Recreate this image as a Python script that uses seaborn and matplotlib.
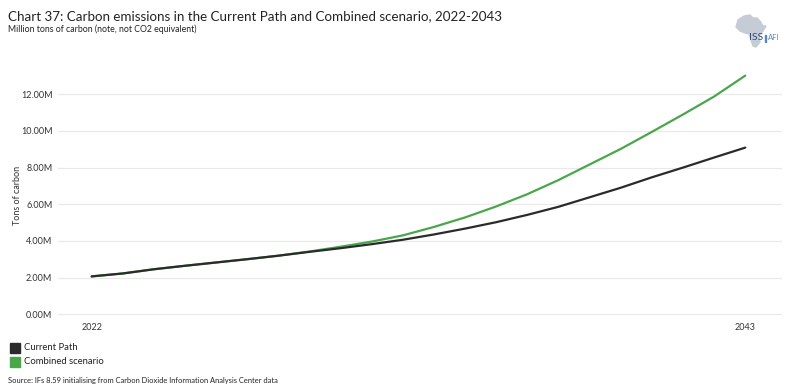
import numpy as np
import pandas as pd
import matplotlib
matplotlib.use("Agg")
import matplotlib.pyplot as plt
import seaborn as sns
from matplotlib.patches import Rectangle, Polygon

years = list(range(2022, 2044))
current_path = [2.06, 2.22, 2.45, 2.64, 2.82, 3.00, 3.19, 3.40, 3.60, 3.82, 4.06,
                4.35, 4.67, 5.02, 5.42, 5.86, 6.38, 6.90, 7.47, 8.00, 8.55, 9.09]
combined = [2.06, 2.22, 2.45, 2.64, 2.82, 3.00, 3.19, 3.42, 3.68, 3.96, 4.30,
            4.76, 5.28, 5.88, 6.55, 7.32, 8.17, 9.02, 9.95, 10.90, 11.88, 13.02]
series_names = ["Current Path", "Combined scenario"]
colors = ["#2b2b2b", "#4aa64a"]
y_ticks = [0, 2, 4, 6, 8, 10, 12]
y_tick_labels = ["0.00M", "2.00M", "4.00M", "6.00M", "8.00M", "10.00M", "12.00M"]

df = pd.DataFrame({
    "year": years * 2,
    "value": current_path + combined,
    "scenario": [series_names[0]] * len(years) + [series_names[1]] * len(years),
})

sns.set_theme(style="white")
plt.rcParams["font.family"] = ["Lato", "DejaVu Sans"]

W, H = 786, 387
fig = plt.figure(figsize=(W / 100, H / 100), dpi=100)
ax = fig.add_axes([58 / W, 1 - 320 / H, (782 - 58) / W, (320 - 65) / H])

sns.lineplot(data=df, x="year", y="value", hue="scenario",
             hue_order=series_names[::-1], palette=dict(zip(series_names, colors)),
             linewidth=1.6, ax=ax, legend=False)

ax.set_xlim(2020.92, 2044.18)
ax.set_ylim(-0.32, 13.6)
ax.set_yticks(y_ticks)
ax.set_yticklabels(y_tick_labels)
ax.set_xticks([2022, 2043])
ax.set_xticklabels(["2022", "2043"])
ax.tick_params(axis="both", labelsize=6.5, colors="#333333", length=0)
ax.tick_params(axis="x", pad=2)
ax.tick_params(axis="y", pad=4)
ax.grid(axis="y", color="#e9e9e9", linewidth=0.9)
ax.grid(axis="x", visible=False)
for s in ax.spines.values():
    s.set_visible(False)
ax.set_xlabel("")
ax.set_ylabel("Tons of carbon", fontsize=6.5, color="#333333")
ax.yaxis.set_label_coords((22 - 58) / (782 - 58), (320 - 195) / (320 - 65))

fig.text(8 / W, 1 - 16 / H, "Chart 37: Carbon emissions in the Current Path and Combined scenario, 2022-2043",
         fontsize=9.65, color="#222222", va="center", ha="left")
fig.text(8 / W, 1 - 29 / H, "Million tons of carbon (note, not CO2 equivalent)",
         fontsize=6.3, color="#222222", va="center", ha="left")

# legend
for i, (name, c) in enumerate(zip(series_names, colors)):
    yc = 348 + i * 14
    fig.patches.append(Rectangle((10 / W, 1 - (yc + 5) / H), 10 / W, 10 / H,
                                 transform=fig.transFigure, color=c, figure=fig))
    fig.text(24 / W, 1 - yc / H, name, fontsize=6.8, color="#222222", va="center", ha="left")

fig.text(8 / W, 1 - 380 / H, "Source: IFs 8.59 initialising from Carbon Dioxide Information Analysis Center data",
         fontsize=5.4, color="#222222", va="center", ha="left")

# logo
africa = [(738, 20), (744, 16), (750, 15), (753, 18), (757, 18), (760, 21), (763, 26),
          (766, 26), (763, 31), (759, 36), (760, 42), (756, 47), (753, 46), (751, 40),
          (749, 34), (745, 33), (740, 31), (736, 27)]
fig.patches.append(Polygon([(x / W, 1 - y / H) for x, y in africa], closed=True,
                           transform=fig.transFigure, color="#c6ccd5", figure=fig))
fig.text(749 / W, 1 - 38 / H, "ISS", fontsize=7.5, color="#2f4a73", va="center", ha="left")
fig.patches.append(Rectangle((765 / W, 1 - 41.5 / H), 0.8 / W, 7 / H,
                             transform=fig.transFigure, color="#5a86c2", figure=fig))
fig.text(768 / W, 1 - 38 / H, "AFI", fontsize=5.5, color="#5a86c2", va="center", ha="left")

fig.savefig("out.png", dpi=100, facecolor="white")
